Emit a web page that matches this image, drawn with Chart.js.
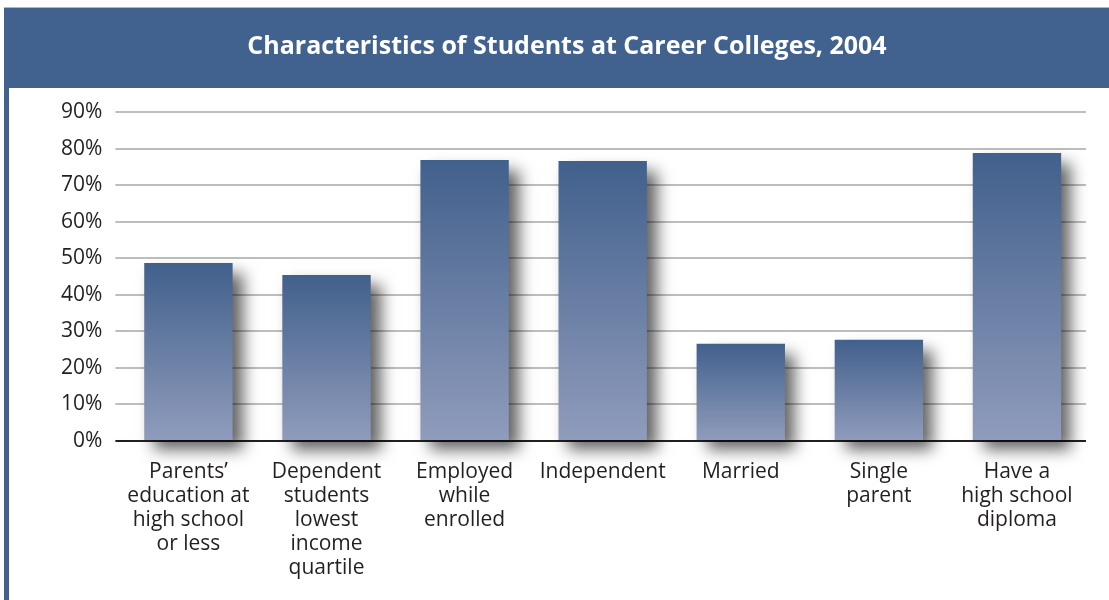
<!DOCTYPE html>
<html>
<head>
<meta charset="utf-8">
<title>Characteristics of Students at Career Colleges, 2004</title>
<script src="https://cdn.jsdelivr.net/npm/chart.js@4.4.1/dist/chart.umd.min.js"></script>
<style>
  html, body { margin: 0; padding: 0; background: #ffffff; }
  canvas { display: block; }
</style>
</head>
<body>
<canvas id="career-chart" width="1109" height="600"></canvas>
<script>
// Category labels, one array per line break
const categories = [
    ['Parents’', 'education at', 'high school', 'or less'],
    ['Dependent', 'students', 'lowest', 'income', 'quartile'],
    ['Employed', 'while', 'enrolled'],
    ['Independent'],
    ['Married'],
    ['Single', 'parent'],
    ['Have a', 'high school', 'diploma']
];

// Share of students (percent)
const shares = [48.7, 45.4, 76.9, 76.6, 26.6, 27.7, 78.8];

// Y axis ticks
const yMax = 90;
const yStep = 10;

const BANNER = '#41618e';
const BAR_TOP = '#41608c';
const BAR_BOTTOM = '#909cbc';
const FONT = '"Open Sans", "Noto Sans", sans-serif';

/**
 * Paints the page background, the title band and the left rule
 */
const framePlugin = {
    id: 'frame',
    beforeDraw: (chart) => {
        const { ctx, width, height } = chart;
        ctx.save();
        ctx.fillStyle = '#ffffff';
        ctx.fillRect(0, 0, width, height);
        ctx.fillStyle = '#a9b8cf';
        ctx.fillRect(4, 7, width - 4, 1);
        ctx.fillStyle = BANNER;
        ctx.fillRect(4, 8, width - 4, 80);
        ctx.fillRect(4, 8, 5, height - 8);
        ctx.restore();
    }
};

/**
 * Soft drop shadow under the bars
 */
const shadowPlugin = {
    id: 'barShadow',
    beforeDatasetsDraw: (chart) => {
        const ctx = chart.ctx;
        ctx.save();
        ctx.shadowColor = 'rgba(0, 0, 0, 0.62)';
        ctx.shadowBlur = 15;
        ctx.shadowOffsetX = 10;
        ctx.shadowOffsetY = 10;
    },
    afterDatasetsDraw: (chart) => {
        chart.ctx.restore();
    }
};

// Vertical gradient per bar, dark at the top, pale at the base
const barGradient = (context) => {
    const chart = context.chart;
    const y = chart.scales.y;
    if (!chart.chartArea || !y || context.parsed === undefined) return BAR_TOP;
    const top = y.getPixelForValue(context.parsed.y);
    const base = y.getPixelForValue(0);
    if (!isFinite(top) || !isFinite(base) || top === base) return BAR_TOP;
    const g = chart.ctx.createLinearGradient(0, top, 0, base);
    g.addColorStop(0, BAR_TOP);
    g.addColorStop(1, BAR_BOTTOM);
    return g;
};

new Chart(document.getElementById('career-chart').getContext('2d'), {
    type: 'bar',
    data: {
        labels: categories,
        datasets: [{
            data: shares,
            backgroundColor: barGradient,
            borderWidth: 0,
            barPercentage: 0.8,
            categoryPercentage: 0.8,
            clip: false
        }]
    },
    options: {
        responsive: false,
        animation: false,
        devicePixelRatio: 1,
        layout: {
            padding: { left: 48, right: 23, top: 0, bottom: 1 }
        },
        plugins: {
            legend: { display: false },
            tooltip: { enabled: false },
            title: {
                display: true,
                text: 'Characteristics of Students at Career Colleges, 2004',
                color: '#ffffff',
                font: { family: FONT, size: 25, weight: 'bold' },
                padding: { top: 32, bottom: 50 }
            }
        },
        scales: {
            x: {
                grid: { display: false, drawTicks: false },
                border: { display: false },
                ticks: {
                    color: '#231f20',
                    font: { family: FONT, size: 21, lineHeight: 1.143 },
                    padding: 19,
                    maxRotation: 0,
                    autoSkip: false
                }
            },
            y: {
                min: 0,
                max: yMax,
                border: { display: false },
                grid: {
                    color: (ctx) => (ctx.tick && ctx.tick.value === 0 ? '#231f20' : '#bdbdbd'),
                    lineWidth: 2,
                    tickLength: 4,
                    tickColor: (ctx) => (ctx.tick && ctx.tick.value === 0 ? '#231f20' : '#bdbdbd')
                },
                ticks: {
                    stepSize: yStep,
                    color: '#231f20',
                    font: { family: FONT, size: 21 },
                    padding: 13,
                    callback: (value) => value + '%'
                }
            }
        }
    },
    plugins: [framePlugin, shadowPlugin]
});
</script>
</body>
</html>
